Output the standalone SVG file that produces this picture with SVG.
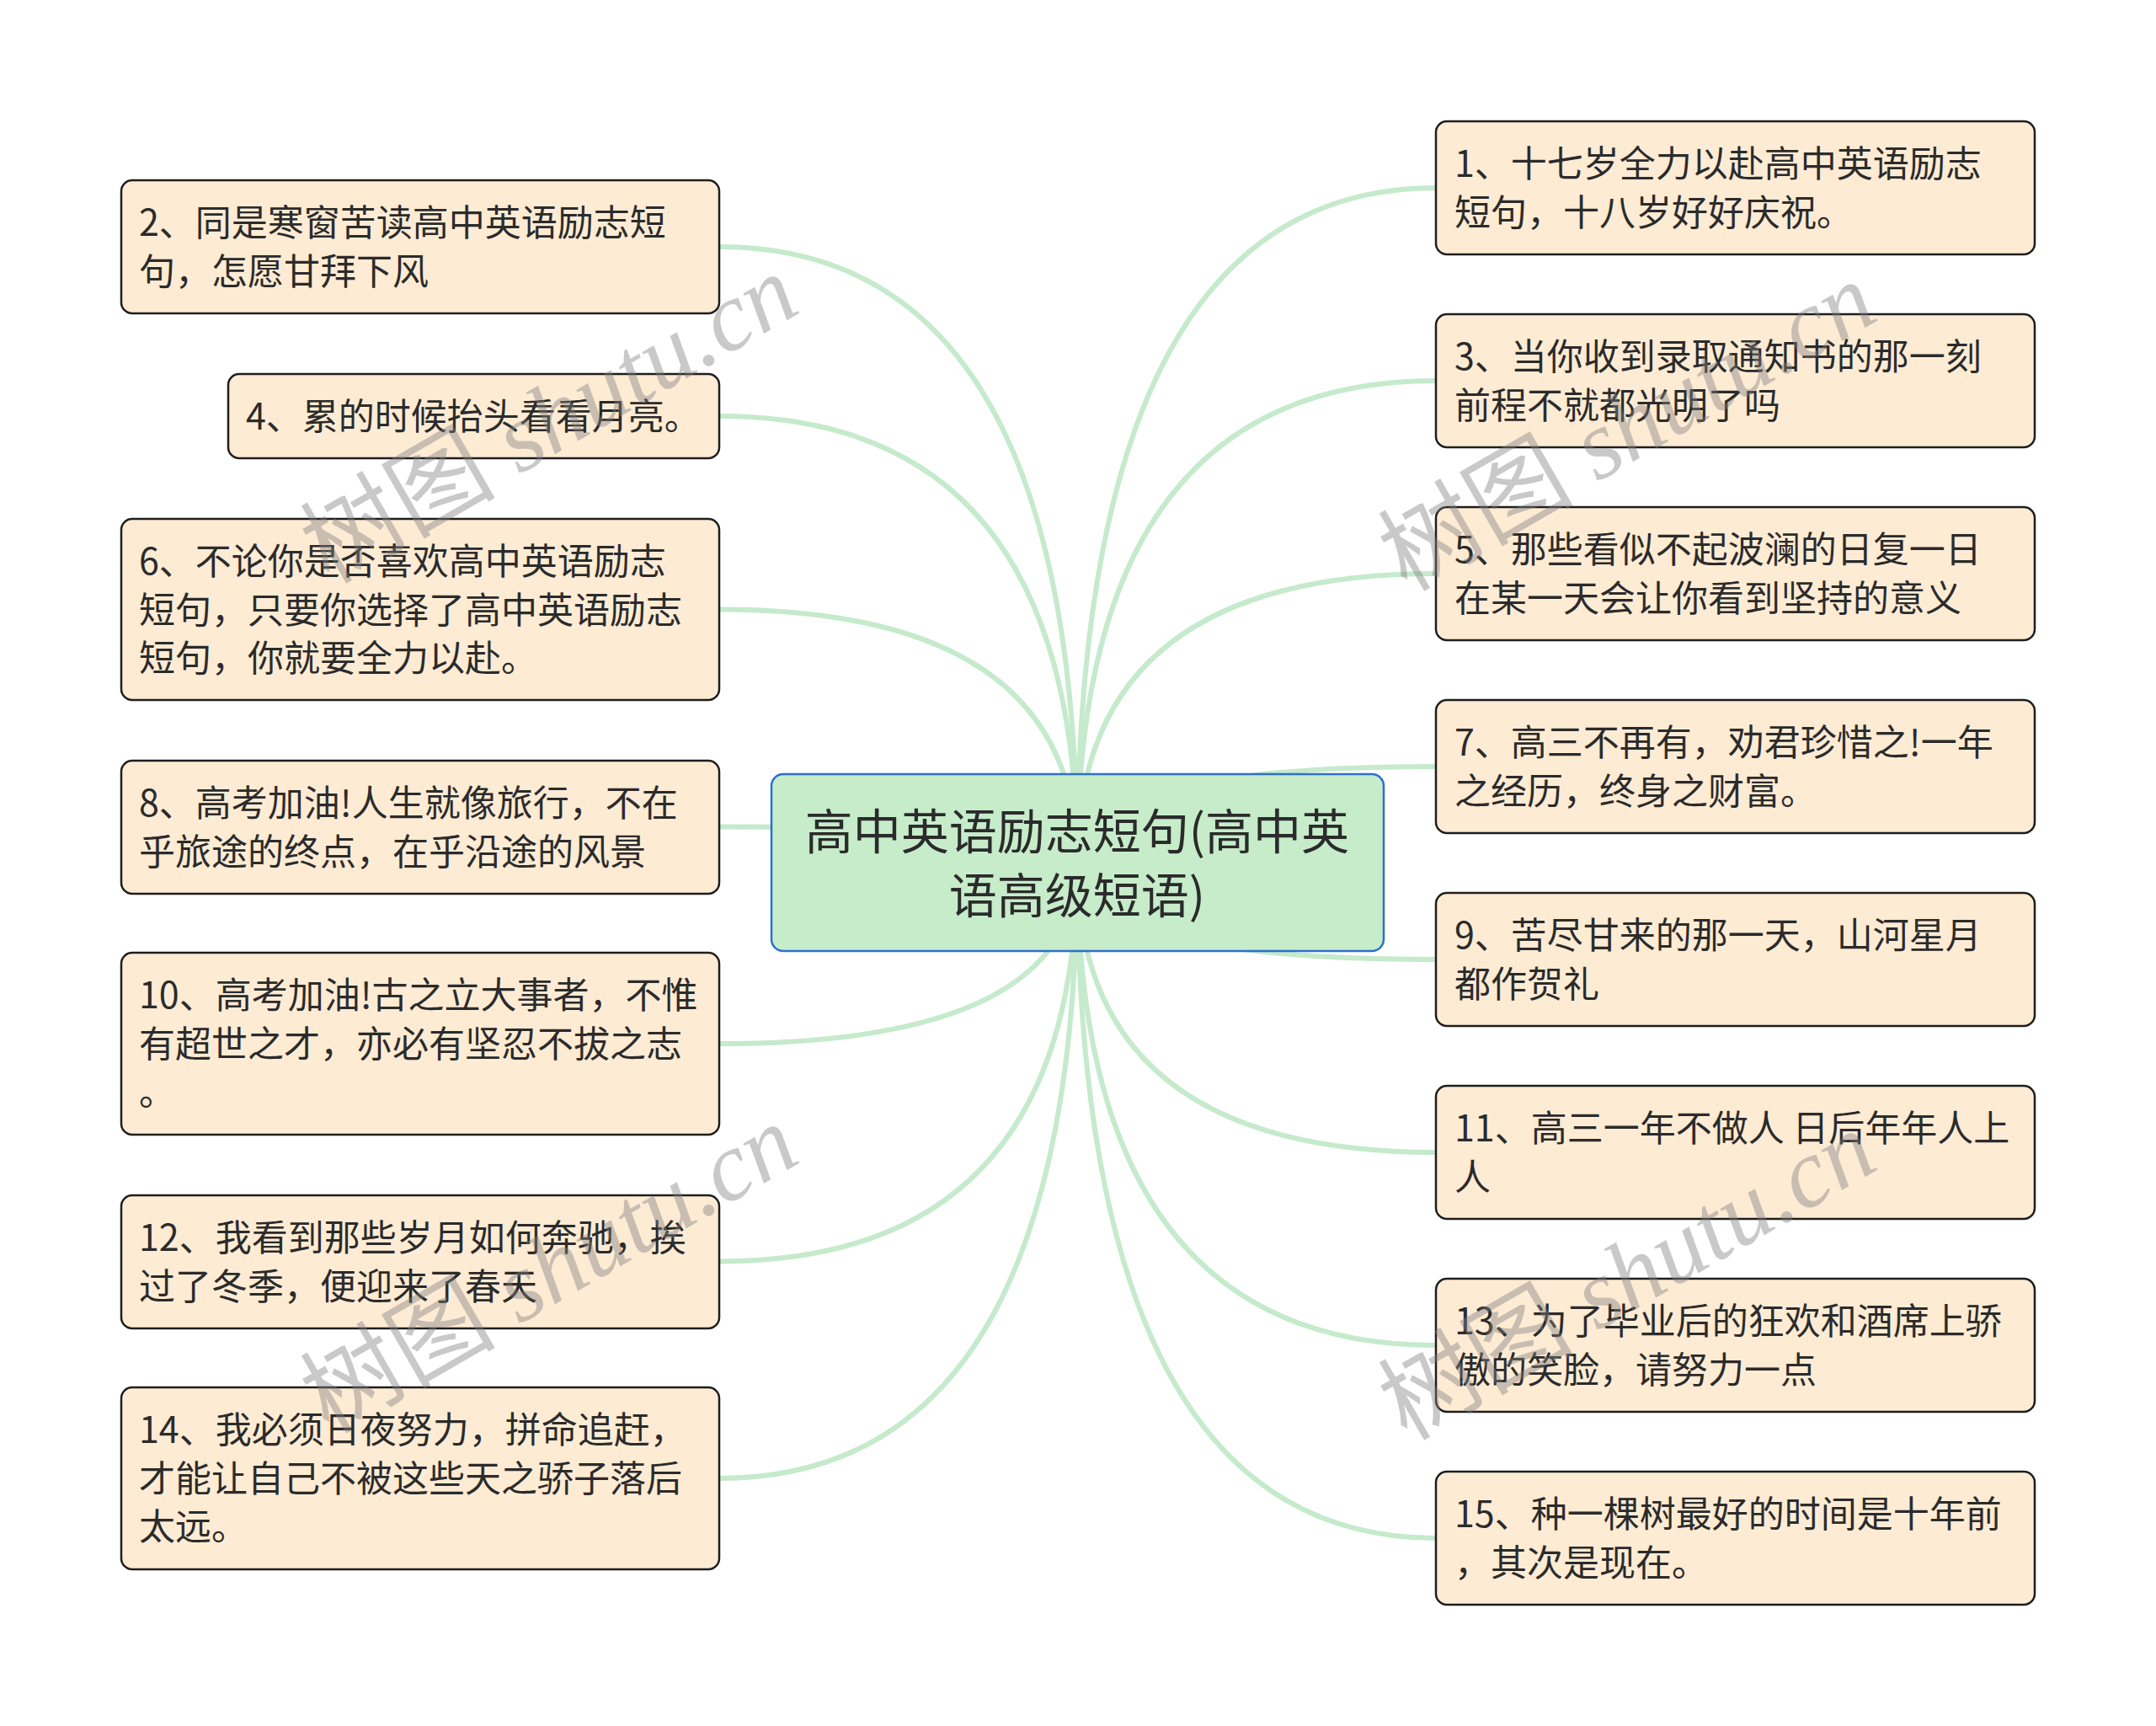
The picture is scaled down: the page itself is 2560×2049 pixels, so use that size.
<svg xmlns="http://www.w3.org/2000/svg" width="2560" height="2049" viewBox="0 0 2560 2049">
<style>
.bg{fill:#ffffff}
.edge{fill:none;stroke:#c5eacc;stroke-width:6;stroke-linecap:round}
.leaf rect{fill:#feebd4;stroke:#1e1e1e;stroke-width:2.5}
.leaf text{font-family:"Noto Sans CJK SC","Microsoft YaHei",sans-serif;font-size:43px;fill:#2b2b2b}
.root rect{fill:#c6ecca;stroke:#2e6fd0;stroke-width:2.5}
.root text{font-family:"Noto Sans CJK SC","Microsoft YaHei",sans-serif;font-size:57px;fill:#2b2b2b;text-anchor:middle}
.wm{font-family:"Liberation Serif","Noto Sans CJK SC",serif;font-size:116px;fill:#808080;opacity:0.42;text-anchor:middle}
.wm tspan.en{font-style:italic}
</style>
<rect class="bg" x="0" y="0" width="2560" height="2049"/>
<g id="connectors">
<path class="edge" d="M1279 1024 Q1279 223 1705 223"/>
<path class="edge" d="M1279 1024 Q1279 452 1705 452"/>
<path class="edge" d="M1279 1024 Q1279 681 1705 681"/>
<path class="edge" d="M1279 1024 Q1279 910 1705 910"/>
<path class="edge" d="M1279 1024 Q1279 1139 1705 1139"/>
<path class="edge" d="M1279 1024 Q1279 1368 1705 1368"/>
<path class="edge" d="M1279 1024 Q1279 1597 1705 1597"/>
<path class="edge" d="M1279 1024 Q1279 1826 1705 1826"/>
<path class="edge" d="M1279 1024 Q1279 293 854 293"/>
<path class="edge" d="M1279 1024 Q1279 494 854 494"/>
<path class="edge" d="M1279 1024 Q1279 723.5 854 723.5"/>
<path class="edge" d="M1279 1024 Q1279 981.5 854 981.5"/>
<path class="edge" d="M1279 1024 Q1279 1239 854 1239"/>
<path class="edge" d="M1279 1024 Q1279 1497.5 854 1497.5"/>
<path class="edge" d="M1279 1024 Q1279 1755 854 1755"/>
</g>
<g id="root" class="root">
<rect x="916" y="919" width="727" height="210" rx="14"/>
<text x="1279" y="1008">高中英语励志短句(高中英</text>
<text x="1279" y="1084">语高级短语)</text>
</g>
<g id="n1" class="leaf">
<rect x="1705" y="144" width="711" height="158" rx="13"/>
<text x="1727" y="210">1、十七岁全力以赴高中英语励志</text>
<text x="1727" y="268">短句，十八岁好好庆祝。</text>
</g>
<g id="n3" class="leaf">
<rect x="1705" y="373" width="711" height="158" rx="13"/>
<text x="1727" y="439">3、当你收到录取通知书的那一刻</text>
<text x="1727" y="497">前程不就都光明了吗</text>
</g>
<g id="n5" class="leaf">
<rect x="1705" y="602" width="711" height="158" rx="13"/>
<text x="1727" y="668">5、那些看似不起波澜的日复一日</text>
<text x="1727" y="726">在某一天会让你看到坚持的意义</text>
</g>
<g id="n7" class="leaf">
<rect x="1705" y="831" width="711" height="158" rx="13"/>
<text x="1727" y="897">7、高三不再有，劝君珍惜之!一年</text>
<text x="1727" y="955">之经历，终身之财富。</text>
</g>
<g id="n9" class="leaf">
<rect x="1705" y="1060" width="711" height="158" rx="13"/>
<text x="1727" y="1126">9、苦尽甘来的那一天，山河星月</text>
<text x="1727" y="1184">都作贺礼</text>
</g>
<g id="n11" class="leaf">
<rect x="1705" y="1289" width="711" height="158" rx="13"/>
<text x="1727" y="1355">11、高三一年不做人 日后年年人上</text>
<text x="1727" y="1413">人</text>
</g>
<g id="n13" class="leaf">
<rect x="1705" y="1518" width="711" height="158" rx="13"/>
<text x="1727" y="1584">13、为了毕业后的狂欢和酒席上骄</text>
<text x="1727" y="1642">傲的笑脸，请努力一点</text>
</g>
<g id="n15" class="leaf">
<rect x="1705" y="1747" width="711" height="158" rx="13"/>
<text x="1727" y="1813">15、种一棵树最好的时间是十年前</text>
<text x="1727" y="1871">，其次是现在。</text>
</g>
<g id="n2" class="leaf">
<rect x="144" y="214" width="710" height="158" rx="13"/>
<text x="165" y="280">2、同是寒窗苦读高中英语励志短</text>
<text x="165" y="338">句，怎愿甘拜下风</text>
</g>
<g id="n4" class="leaf">
<rect x="271" y="444" width="583" height="100" rx="13"/>
<text x="292" y="510">4、累的时候抬头看看月亮。</text>
</g>
<g id="n6" class="leaf">
<rect x="144" y="616" width="710" height="215" rx="13"/>
<text x="165" y="682">6、不论你是否喜欢高中英语励志</text>
<text x="165" y="740">短句，只要你选择了高中英语励志</text>
<text x="165" y="797">短句，你就要全力以赴。</text>
</g>
<g id="n8" class="leaf">
<rect x="144" y="903" width="710" height="158" rx="13"/>
<text x="165" y="969">8、高考加油!人生就像旅行，不在</text>
<text x="165" y="1027">乎旅途的终点，在乎沿途的风景</text>
</g>
<g id="n10" class="leaf">
<rect x="144" y="1131" width="710" height="216" rx="13"/>
<text x="165" y="1197">10、高考加油!古之立大事者，不惟</text>
<text x="165" y="1255">有超世之才，亦必有坚忍不拔之志</text>
<text x="165" y="1312">。</text>
</g>
<g id="n12" class="leaf">
<rect x="144" y="1419" width="710" height="158" rx="13"/>
<text x="165" y="1485">12、我看到那些岁月如何奔驰，挨</text>
<text x="165" y="1543">过了冬季，便迎来了春天</text>
</g>
<g id="n14" class="leaf">
<rect x="144" y="1647" width="710" height="216" rx="13"/>
<text x="165" y="1713">14、我必须日夜努力，拼命追赶，</text>
<text x="165" y="1771">才能让自己不被这些天之骄子落后</text>
<text x="165" y="1828">太远。</text>
</g>
<g id="watermarks">
<text class="wm" transform="translate(652 497) rotate(-30)" y="40">树图 <tspan class="en">shutu.cn</tspan></text>
<text class="wm" transform="translate(1932 506) rotate(-30)" y="40">树图 <tspan class="en">shutu.cn</tspan></text>
<text class="wm" transform="translate(652 1506) rotate(-30)" y="40">树图 <tspan class="en">shutu.cn</tspan></text>
<text class="wm" transform="translate(1932 1514) rotate(-30)" y="40">树图 <tspan class="en">shutu.cn</tspan></text>
</g>
</svg>
